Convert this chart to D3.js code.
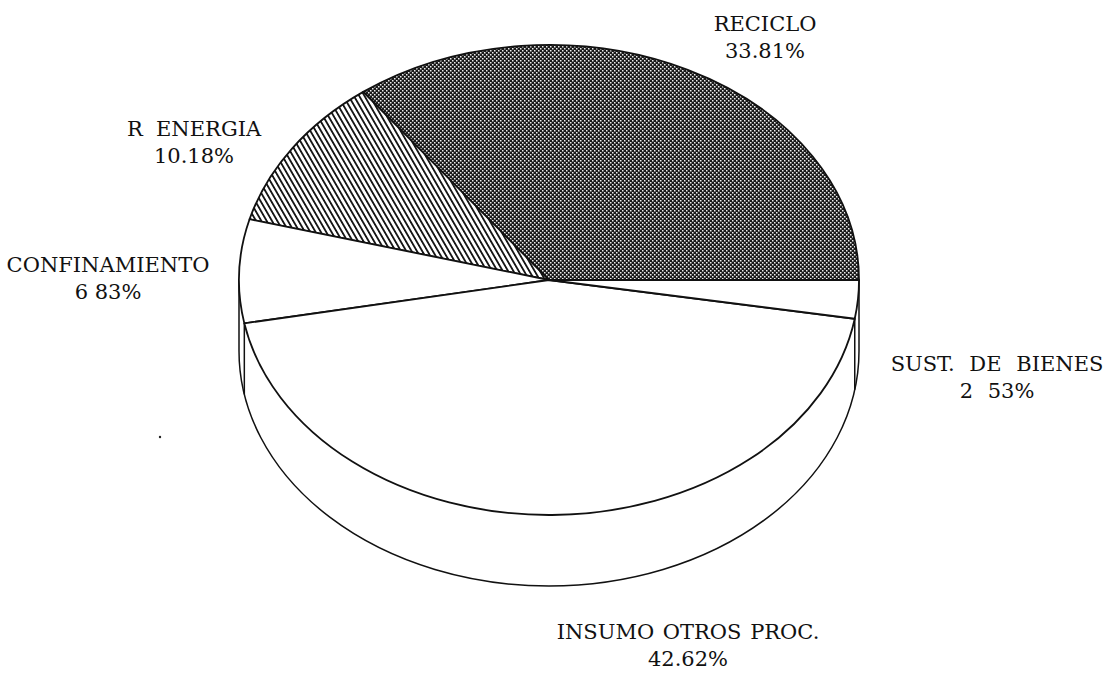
<!DOCTYPE html>
<html>
<head>
<meta charset="utf-8">
<style>
    html, body { margin: 0; padding: 0; background: #fff; }
    svg { display: block; }
    text { font-family: "DejaVu Serif", serif; font-size: 21px; fill: #111; text-anchor: middle; white-space: pre; }
</style>
</head>
<body>
<svg id="chart"></svg>
<script src="https://cdnjs.cloudflare.com/ajax/libs/d3/7.8.5/d3.min.js"></script>
<script>
    // slices in drawing order, counter-clockwise from the east side of the pie
    let categories = ["RECICLO", "R  ENERGIA", "CONFINAMIENTO", "INSUMO OTROS PROC.", "SUST. DE BIENES"];
    let values = [33.81, 10.18, 6.83, 42.62, 2.53];
    let valueLabels = ["33.81%", "10.18%", "6 83%", "42.62%", "2 53%"];

    let width = 1115;
    let height = 676;
    let cx = 549, cy = 280;
    let rx = 310, ry = 235;
    let depth = 71;

    // per slice look and label placement
    let fills = ["url(#dots)", "url(#hatch)", "#fff", "#fff", "#fff"];
    let labelX = [765, 194, 108, 688, 997];
    let labelY = [31, 136, 272, 639, 371];
    let wordGap = [0, 0, 0, 2, 8];

    let svg = d3.select("#chart").attr("width", width).attr("height", height);

    let defs = svg.append("defs");
    let dots = defs.append("pattern").attr("id", "dots")
        .attr("width", 4).attr("height", 4)
        .attr("patternUnits", "userSpaceOnUse");
    dots.append("rect").attr("width", 4).attr("height", 4).attr("fill", "#1a1a1a");
    dots.append("rect").attr("width", 1.5).attr("height", 1.5).attr("fill", "#eee");
    dots.append("rect").attr("x", 2).attr("y", 2).attr("width", 1.5).attr("height", 1.5).attr("fill", "#eee");

    let hatch = defs.append("pattern").attr("id", "hatch")
        .attr("width", 4.6).attr("height", 4.6)
        .attr("patternUnits", "userSpaceOnUse")
        .attr("patternTransform", "rotate(-30)");
    hatch.append("rect").attr("width", 4.6).attr("height", 4.6).attr("fill", "#fff");
    hatch.append("rect").attr("width", 1.8).attr("height", 4.6).attr("fill", "#111");

    // d3.pie normalises the values, they only add up to 95.97
    let pie = d3.pie().value(d => d).sort(null).startAngle(0).endAngle(2 * Math.PI);
    let arcs = pie(values);

    function px(a) { return cx + rx * Math.cos(a); }
    function py(a) { return cy - ry * Math.sin(a); }

    function slicePath(d) {
        // sweep flag 0 is counter-clockwise on screen
        let large = d.endAngle - d.startAngle > Math.PI ? 1 : 0;
        return `M${cx},${cy}L${px(d.startAngle)},${py(d.startAngle)}` +
               `A${rx},${ry} 0 ${large} 0 ${px(d.endAngle)},${py(d.endAngle)}Z`;
    }

    // side wall, the lower half of the ellipse pushed down
    svg.append("path")
        .attr("d", `M${cx - rx},${cy}L${cx - rx},${cy + depth}` +
                   `A${rx},${ry} 0 0 0 ${cx + rx},${cy + depth}L${cx + rx},${cy}`)
        .attr("fill", "#fff").attr("stroke", "#111").attr("stroke-width", 1.5);

    svg.append("g").selectAll("path")
        .data(arcs)
        .enter()
        .append("path")
        .attr("d", slicePath)
        .attr("fill", (d, i) => fills[i])
        .attr("stroke", "#111")
        .attr("stroke-width", 1.8)
        .attr("stroke-linejoin", "round");

    // verticals dropped from both ends of the front slice
    let front = arcs[3];
    svg.append("g").selectAll("line")
        .data([front.startAngle, front.endAngle])
        .enter()
        .append("line")
        .attr("x1", d => px(d))
        .attr("y1", d => py(d))
        .attr("x2", d => px(d))
        .attr("y2", d => py(d) + depth)
        .attr("stroke", "#111")
        .attr("stroke-width", 1.5);

    // speck on the scanned page
    svg.append("circle").attr("cx", 160).attr("cy", 437).attr("r", 1.2).attr("fill", "#222");

    let labels = svg.append("g").selectAll("text")
        .data(categories)
        .enter()
        .append("text")
        .attr("x", (d, i) => labelX[i])
        .attr("y", (d, i) => labelY[i])
        .style("word-spacing", (d, i) => wordGap[i] + "px");
    labels.append("tspan").text(d => d);
    labels.append("tspan")
        .attr("x", (d, i) => labelX[i])
        .attr("dy", 27)
        .text((d, i) => valueLabels[i]);
</script>
</body>
</html>
